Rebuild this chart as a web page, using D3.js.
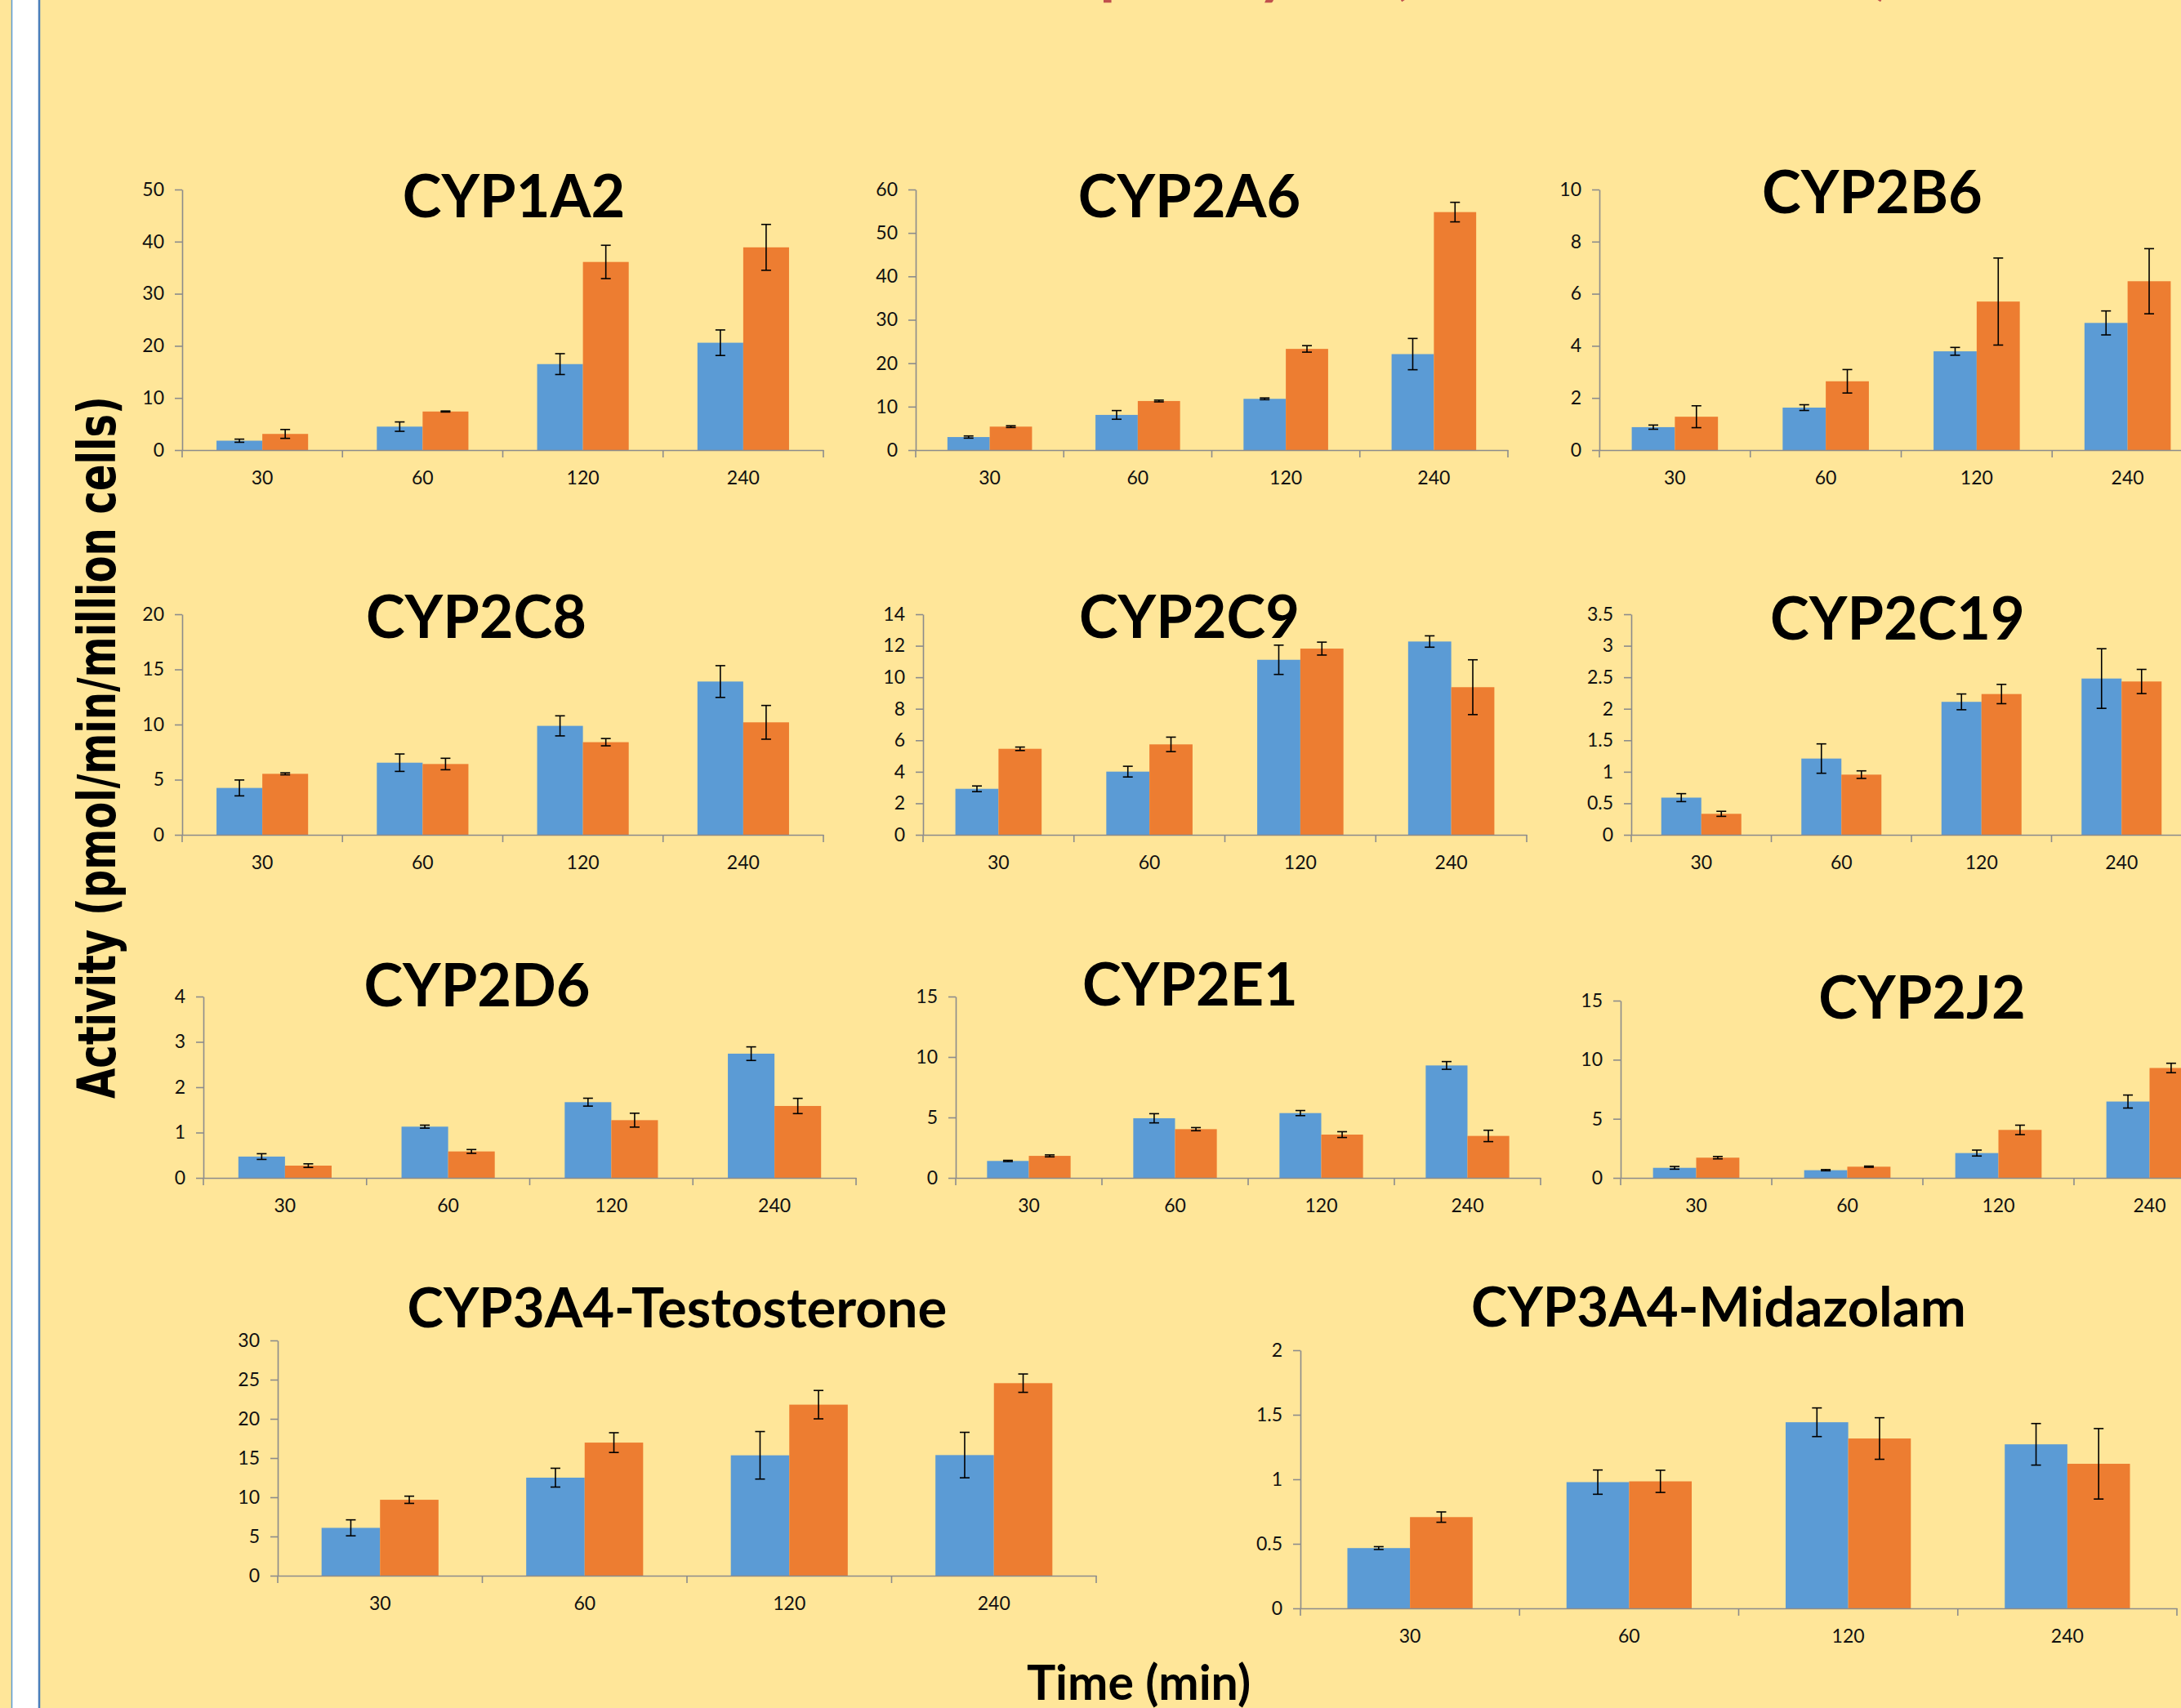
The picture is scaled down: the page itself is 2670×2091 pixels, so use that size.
<!DOCTYPE html>
<html>
<head>
<meta charset="utf-8">
<script src="https://cdn.jsdelivr.net/npm/d3@7/dist/d3.min.js"></script>
<style>
  html, body { margin: 0; padding: 0; background: #FFE699; }
  svg { display: block; }
</style>
</head>
<body>
<svg id="chart" width="2670" height="2091"></svg>
<script>
// ---- data ----------------------------------------------------------------
const times = ["30", "60", "120", "240"];

const panelNames = [
  "CYP1A2", "CYP2A6", "CYP2B6",
  "CYP2C8", "CYP2C9", "CYP2C19",
  "CYP2D6", "CYP2E1", "CYP2J2",
  "CYP3A4-Testosterone", "CYP3A4-Midazolam"
];

// first series (blue): mean activity per time point
const meanA = [
  [1.8, 4.5, 16.5, 20.6],
  [3.0, 8.1, 11.8, 22.1],
  [0.88, 1.63, 3.79, 4.88],
  [4.25, 6.54, 9.88, 13.9],
  [2.92, 4.01, 11.11, 12.27],
  [0.59, 1.21, 2.11, 2.48],
  [0.47, 1.13, 1.67, 2.74],
  [1.40, 4.93, 5.36, 9.30],
  [0.85, 0.65, 2.10, 6.46],
  [6.1, 12.5, 15.35, 15.38],
  [0.467, 0.978, 1.442, 1.271]
];
// first series (blue): standard deviation
const sdA = [
  [0.3, 0.9, 2.0, 2.45],
  [0.25, 1.0, 0.2, 3.6],
  [0.08, 0.11, 0.15, 0.46],
  [0.72, 0.79, 0.91, 1.44],
  [0.18, 0.34, 0.93, 0.36],
  [0.063, 0.233, 0.125, 0.473],
  [0.063, 0.033, 0.087, 0.15],
  [0.05, 0.38, 0.21, 0.32],
  [0.115, 0.05, 0.25, 0.55],
  [1.02, 1.2, 3.03, 2.9],
  [0.011, 0.094, 0.111, 0.161]
];
// second series (orange): mean activity per time point
const meanB = [
  [3.1, 7.4, 36.1, 38.9],
  [5.4, 11.3, 23.3, 54.8],
  [1.28, 2.64, 5.70, 6.48],
  [5.53, 6.42, 8.40, 10.2],
  [5.46, 5.74, 11.82, 9.37],
  [0.333, 0.955, 2.234, 2.433],
  [0.27, 0.583, 1.273, 1.586],
  [1.82, 4.03, 3.58, 3.47],
  [1.71, 0.946, 4.06, 9.30],
  [9.68, 16.97, 21.81, 24.55],
  [0.707, 0.984, 1.316, 1.12]
];
// second series (orange): standard deviation
const sdB = [
  [0.85, 0.1, 3.2, 4.4],
  [0.2, 0.2, 0.75, 2.25],
  [0.42, 0.45, 1.67, 1.25],
  [0.09, 0.52, 0.33, 1.53],
  [0.11, 0.46, 0.41, 1.74],
  [0.04, 0.06, 0.153, 0.192],
  [0.04, 0.042, 0.153, 0.168],
  [0.08, 0.13, 0.24, 0.47],
  [0.1, 0.05, 0.40, 0.40],
  [0.46, 1.26, 1.81, 1.17],
  [0.04, 0.086, 0.161, 0.273]
];

// value-axis tick labels of each panel
const yTicks = [
  [0, 10, 20, 30, 40, 50],
  [0, 10, 20, 30, 40, 50, 60],
  [0, 2, 4, 6, 8, 10],
  [0, 5, 10, 15, 20],
  [0, 2, 4, 6, 8, 10, 12, 14],
  [0, 0.5, 1, 1.5, 2, 2.5, 3, 3.5],
  [0, 1, 2, 3, 4],
  [0, 5, 10, 15],
  [0, 5, 10, 15],
  [0, 5, 10, 15, 20, 25, 30],
  [0, 0.5, 1, 1.5, 2]
];

const headline = "CYP Metabolism in Human Hepatocytes (Fresh vs Thawed)";
const yAxisTitle = "Activity (pmol/min/million cells)";
const xAxisTitle = "Time (min)";

// ---- layout (plot areas in page pixels) ----------------------------------
const layout = [
  { x0: 223,  x1: 1008, top: 232,  base: 551,  tx: 629,  ty: 266,  ts: 72 },
  { x0: 1121, x1: 1846, top: 232,  base: 551,  tx: 1456, ty: 266,  ts: 72 },
  { x0: 1958, x1: 2697, top: 232,  base: 551,  tx: 2292, ty: 261,  ts: 72 },
  { x0: 223,  x1: 1008, top: 752,  base: 1022, tx: 583,  ty: 781,  ts: 72 },
  { x0: 1130, x1: 1869, top: 752,  base: 1022, tx: 1456, ty: 781,  ts: 72 },
  { x0: 1997, x1: 2683, top: 752,  base: 1022, tx: 2323, ty: 783,  ts: 72 },
  { x0: 249,  x1: 1048, top: 1220, base: 1442, tx: 584,  ty: 1232, ts: 72 },
  { x0: 1170, x1: 1886, top: 1220, base: 1442, tx: 1457, ty: 1231, ts: 72 },
  { x0: 1984, x1: 2724, top: 1225, base: 1442, tx: 2353, ty: 1247, ts: 72 },
  { x0: 340,  x1: 1342, top: 1641, base: 1929, tx: 829,  ty: 1625, ts: 67 },
  { x0: 1592, x1: 2665, top: 1653, base: 1969, tx: 2104, ty: 1624, ts: 67 }
];

const colors = ["#5B9BD5", "#ED7D31"];
const axisColor = "#8C8C8C";
const FONT = "Lato, 'Open Sans', sans-serif";
const TICK_FS = 23;

// ---- drawing --------------------------------------------------------------
const svg = d3.select("#chart");

svg.append("rect").attr("width", 2670).attr("height", 2091).attr("fill", "#FFE699");

// white strip with blue edges at the left margin
svg.append("rect").attr("x", 14).attr("y", 0).attr("width", 34).attr("height", 2091).attr("fill", "#FFFFFF");
svg.append("line").attr("x1", 14.5).attr("x2", 14.5).attr("y1", 0).attr("y2", 2091)
  .attr("stroke", "#5B9BD5").attr("stroke-width", 1.5);
svg.append("line").attr("x1", 48).attr("x2", 48).attr("y1", 0).attr("y2", 2091)
  .attr("stroke", "#4A7EBB").attr("stroke-width", 2.5);

// page headline (runs off the top edge)
const head = svg.append("text")
  .attr("font-family", FONT).attr("font-weight", 700)
  .attr("font-size", 80).attr("fill", "#C0504D")
  .attr("x", 0).attr("y", -10)
  .text(headline);
(function placeHeadline() {
  const node = head.node();
  const ip = headline.indexOf("Hepatocytes") + 2;
  const ic = headline.lastIndexOf(")");
  const span = node.getStartPositionOfChar(ic).x - node.getStartPositionOfChar(ip).x;
  const fs = 80 * (2302 - 1354) / span;
  head.attr("font-size", fs);
  const px = node.getStartPositionOfChar(ip).x;
  head.attr("x", 1354 - 0.1 * fs - px);
  head.attr("y", 5 - 0.2 * fs);
})();

panelNames.forEach((name, p) => {
  const L = layout[p];
  const g = svg.append("g");
  const ticks = yTicks[p];

  const x = d3.scaleBand().domain(times).range([L.x0, L.x1]).paddingInner(0).paddingOuter(0);
  const bw = x.bandwidth();
  const barW = bw / 3.5; // 150% gap between clusters
  const xs = d3.scaleBand().domain([0, 1]).range([0.75 * barW, bw - 0.75 * barW]);
  const y = d3.scaleLinear().domain([0, d3.max(ticks)]).range([L.base, L.top]);

  const series = [
    { mean: meanA[p], sd: sdA[p] },
    { mean: meanB[p], sd: sdB[p] }
  ];

  // bars
  series.forEach((s, si) => {
    g.selectAll(null).data(times).enter().append("rect")
      .attr("x", t => x(t) + xs(si))
      .attr("width", xs.bandwidth())
      .attr("y", (t, i) => y(s.mean[i]))
      .attr("height", (t, i) => y(0) - y(s.mean[i]))
      .attr("fill", colors[si]);
  });

  // error bars
  series.forEach((s, si) => {
    const cx = t => x(t) + xs(si) + xs.bandwidth() / 2;
    const eg = g.append("g").attr("stroke", "#000").attr("stroke-width", 1.6);
    times.forEach((t, i) => {
      const hi = y(s.mean[i] + s.sd[i]);
      const lo = y(s.mean[i] - s.sd[i]);
      eg.append("line").attr("x1", cx(t)).attr("x2", cx(t)).attr("y1", hi).attr("y2", lo);
      eg.append("line").attr("x1", cx(t) - 6).attr("x2", cx(t) + 6).attr("y1", hi).attr("y2", hi);
      eg.append("line").attr("x1", cx(t) - 6).attr("x2", cx(t) + 6).attr("y1", lo).attr("y2", lo);
    });
  });

  // value axis
  const ya = g.append("g").attr("transform", `translate(${L.x0},0)`)
    .call(d3.axisLeft(y).tickValues(ticks).tickFormat(d3.format("~g"))
      .tickSize(9).tickSizeOuter(0).tickPadding(13));
  ya.select(".domain").attr("stroke", axisColor).attr("stroke-width", 1.6);
  ya.selectAll(".tick line").attr("stroke", axisColor).attr("stroke-width", 1.6);
  ya.selectAll(".tick text").attr("font-family", FONT).attr("font-size", TICK_FS).attr("fill", "#111");

  // category axis
  const xa = g.append("g").attr("transform", `translate(0,${L.base})`)
    .call(d3.axisBottom(x).tickSize(0).tickSizeOuter(0).tickPadding(26));
  xa.select(".domain").attr("stroke", axisColor).attr("stroke-width", 1.6);
  xa.selectAll(".tick text").attr("font-family", FONT).attr("font-size", TICK_FS).attr("fill", "#111");
  const bounds = times.map(t => x(t)).concat([x.range()[1]]);
  g.selectAll(null).data(bounds).enter().append("line")
    .attr("x1", d => d).attr("x2", d => d)
    .attr("y1", L.base).attr("y2", L.base + 9)
    .attr("stroke", axisColor).attr("stroke-width", 1.6);

  // panel title
  g.append("text")
    .attr("x", L.tx).attr("y", L.ty)
    .attr("text-anchor", "middle")
    .attr("font-family", FONT).attr("font-weight", 700)
    .attr("font-size", L.ts).attr("fill", "#000")
    .text(name);
});

// shared axis titles
svg.append("text")
  .attr("transform", "translate(141,915) rotate(-90)")
  .attr("text-anchor", "middle")
  .attr("font-family", "'DejaVu Sans', Verdana, sans-serif").attr("font-weight", 700)
  .attr("font-size", 64)
  .attr("textLength", 860).attr("lengthAdjust", "spacingAndGlyphs")
  .attr("fill", "#000")
  .text(yAxisTitle);

svg.append("text")
  .attr("x", 1394).attr("y", 2081)
  .attr("text-anchor", "middle")
  .attr("font-family", FONT).attr("font-weight", 700)
  .attr("font-size", 59).attr("fill", "#000")
  .text(xAxisTitle);
</script>
</body>
</html>
